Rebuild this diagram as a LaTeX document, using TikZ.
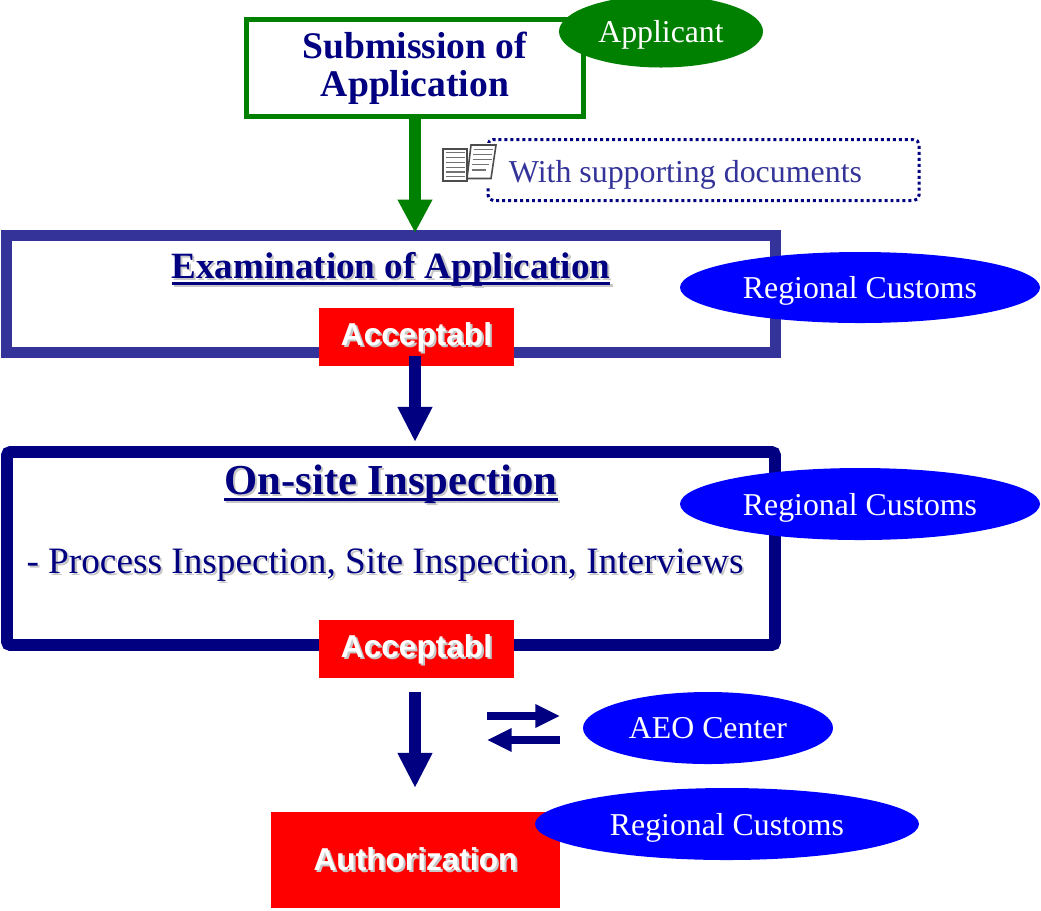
\documentclass[tikz,border=0pt]{standalone}
\usepackage{fontspec}
\setmainfont{Liberation Serif}
\setsansfont{Liberation Sans}
\usetikzlibrary{arrows.meta}
\usetikzlibrary{shapes.geometric}
\definecolor{navyblue}{HTML}{000080}
\definecolor{indigoblue}{HTML}{333399}
\definecolor{appgreen}{HTML}{008000}
\definecolor{cusblue}{HTML}{0000FF}
\definecolor{redbox}{HTML}{FF0000}
\newcommand{\shadowtxt}[1]{\leavevmode\rlap{\kern1.2pt\raisebox{-1.2pt}{\color{black!22}#1}}#1}
\newcommand{\ulinetxt}[1]{\setbox0\hbox{#1}\rlap{\raisebox{-3.6pt}{\rule{\wd0}{1.8pt}}}\box0}

\begin{document}
\begin{tikzpicture}[
    thickarrow/.style = {-{Triangle[length=20pt,width=18.5pt]}, line width=6.8pt, navyblue},
    swaparrow/.style = {-{Triangle[length=14pt,width=12.5pt]}, line width=4.7pt, navyblue},
    stepbox/.style = {draw, inner sep=0pt, outer sep=0pt},
    redlabel/.style = {fill=redbox, inner sep=0pt, text=white, font=\sffamily\bfseries\fontsize{18}{20}\selectfont},
    office/.style = {ellipse, fill=cusblue, inner sep=0pt, outer sep=0pt, text=white, text depth=0pt, font=\fontsize{18.1}{20}\selectfont}]
    \useasboundingbox (0, 0) rectangle (20.82, -18.2);

    % Boxes
    \node[stepbox, draw=appgreen, line width=2.9pt, minimum width=6.74cm, minimum height=1.94cm, align=center, text=navyblue, font=\bfseries\fontsize{21.4}{21.7}\selectfont] (submit) at (8.3, -1.36) {\raisebox{-0.6pt}{Submission of}\\\raisebox{-0.6pt}{Application}};
    \node[stepbox, draw=indigoblue, line width=6.3pt, minimum width=15.38cm, minimum height=2.34cm] (exam) at (7.82, -5.88) {};
    \node[stepbox, draw=navyblue, line width=6.8pt, rounded corners=2pt, minimum width=15.36cm, minimum height=3.86cm] (onsite) at (7.82, -10.97) {};
    \node[stepbox, draw=navyblue, dash pattern=on 1.7pt off 1.7pt, line width=1.7pt, rounded corners=3pt, minimum width=8.62cm, minimum height=1.22cm] (docs) at (14.07, -3.4) {};

    % Texts in the boxes
    \node[text=indigoblue, text depth=0pt, font=\fontsize{18.15}{20}\selectfont] (docstext) at (13.71, -3.42) {With supporting documents};
    \node[text=navyblue, font=\bfseries\fontsize{21.1}{22}\selectfont] (examtitle) at (7.82, -5.41) {\shadowtxt{\ulinetxt{Examination of Application}}};
    \node[text=navyblue, font=\bfseries\fontsize{24.3}{26}\selectfont] (sitetitle) at (7.82, -9.71) {\shadowtxt{\ulinetxt{On-site Inspection}}};
    \node[text=navyblue, font=\fontsize{21.2}{22}\selectfont] (sitetext) at (7.7, -11.33) {\shadowtxt{- Process Inspection, Site Inspection, Interviews}};

    % Red labels
    \node[redlabel, text depth=3.3pt, minimum width=3.9cm, minimum height=1.16cm] (accept1) at (8.33, -6.74) {\shadowtxt{Acceptabl}};
    \node[redlabel, text depth=3.3pt, minimum width=3.9cm, minimum height=1.16cm] (accept2) at (8.33, -12.98) {\shadowtxt{Acceptabl}};
    \node[redlabel, minimum width=5.78cm, minimum height=1.92cm] (auth) at (8.31, -17.2) {\shadowtxt{Authorization}};

    % Offices
    \node[office, fill=appgreen, minimum width=4.08cm, minimum height=1.44cm] (applicant) at (13.22, -0.63) {Applicant};
    \node[office, minimum width=7.2cm, minimum height=1.42cm] (customs1) at (17.2, -5.75) {Regional Customs};
    \node[office, minimum width=7.2cm, minimum height=1.44cm] (customs2) at (17.2, -10.08) {Regional Customs};
    \node[office, minimum width=5cm, minimum height=1.44cm] (center) at (14.16, -14.56) {AEO Center};
    \node[office, minimum width=7.68cm, minimum height=1.44cm] (customs3) at (14.54, -16.48) {Regional Customs};

    % Arrow ends
    \coordinate (g1) at (8.3, -4.66);
    \coordinate (a1) at (8.3, -7.12);
    \coordinate (a2) at (8.3, -8.84);
    \coordinate (a3) at (8.3, -13.84);
    \coordinate (a4) at (8.3, -15.76);
    \coordinate (s1) at (9.74, -14.32);
    \coordinate (s2) at (11.2, -14.32);
    \coordinate (s3) at (11.2, -14.8);
    \coordinate (s4) at (9.74, -14.8);

    % Arrows
    \draw[thickarrow, appgreen, -{Triangle[length=19pt,width=18.5pt]}] (submit.south) -- (g1);
    \draw[thickarrow] (a1) -- (a2);
    \draw[thickarrow] (a3) -- (a4);
    \draw[swaparrow] (s1) -- (s2);
    \draw[swaparrow] (s3) -- (s4);

    % Document icon
    \fill[white] (8.8, -2.86) rectangle (9.96, -3.72);
    \draw[black!70, fill=white, line width=0.9pt] (8.86, -2.98) -- (9.34, -2.98) -- (9.34, -3.62) -- (8.86, -3.62) -- cycle;
    \draw[black!70, fill=white, line width=0.9pt] (9.42, -2.9) -- (9.92, -2.9) -- (9.82, -3.57) -- (9.34, -3.57) -- cycle;
    \foreach \y in {-3.05, -3.15, -3.25, -3.35, -3.44, -3.53}
        \draw[black!55, line width=1pt] (8.91, \y) -- (9.29, \y);
    \draw[black!55, line width=1pt] (9.47, -2.99) -- (9.85, -2.99);
    \draw[black!55, line width=1pt] (9.46, -3.09) -- (9.84, -3.09);
    \draw[black!55, line width=1pt] (9.45, -3.19) -- (9.83, -3.19);
    \draw[black!55, line width=1pt] (9.44, -3.29) -- (9.78, -3.29);
    \draw[black!55, line width=1pt] (9.43, -3.40) -- (9.72, -3.40);
\end{tikzpicture}
\end{document}
